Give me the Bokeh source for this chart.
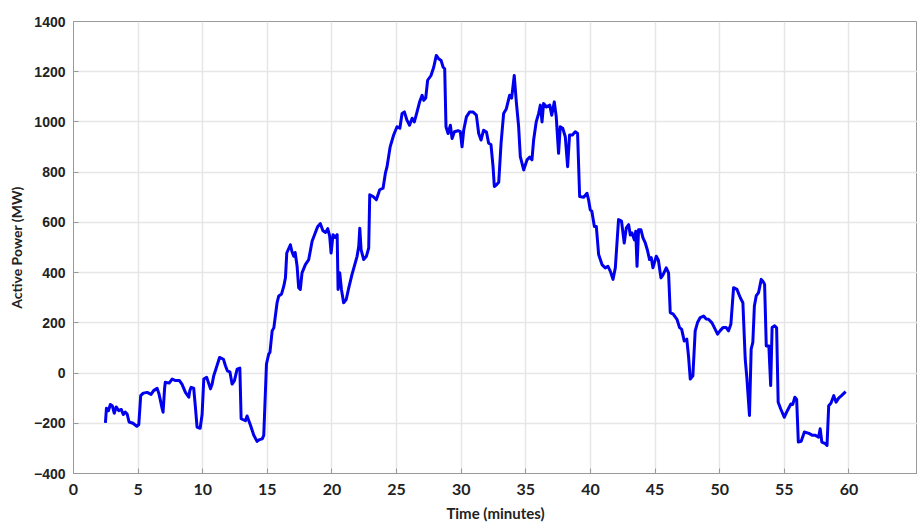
from bokeh.plotting import figure
from bokeh.models import Range1d, FixedTicker
from bokeh.embed import file_html
from bokeh.resources import INLINE

time_min = [2.47, 2.55, 2.7, 2.85, 3.0, 3.15, 3.3, 3.5, 3.7, 3.85, 4.0, 4.15, 4.3, 4.6, 4.9, 5.05, 5.2, 5.4, 5.7, 6.0,
            6.2, 6.47, 6.6, 6.7, 6.85, 6.93, 7.05, 7.1, 7.4, 7.63, 7.9, 8.2, 8.4, 8.66, 8.92, 9.0, 9.1, 9.3, 9.43, 9.56,
            9.8, 9.95, 10.08, 10.3, 10.45, 10.6, 10.72, 10.85, 11.1, 11.3, 11.6, 11.75, 11.9, 12.1, 12.27, 12.45, 12.66,
            12.87, 12.97, 13.3, 13.43, 13.7, 13.95, 14.2, 14.4, 14.6, 14.72, 14.93, 15.1, 15.2, 15.37, 15.5, 15.75,
            15.88, 16.1, 16.27, 16.4, 16.5, 16.78, 16.9, 17.04, 17.15, 17.3, 17.42, 17.55, 17.68, 17.94, 18.2, 18.46,
            18.7, 18.9, 19.1, 19.3, 19.5, 19.67, 19.82, 19.93, 20.08, 20.25, 20.4, 20.47, 20.6, 20.73, 20.9, 21.1,
            21.3, 21.55, 21.8, 21.94, 22.07, 22.15, 22.25, 22.45, 22.66, 22.84, 22.92, 23.18, 23.43, 23.69, 23.95,
            24.13, 24.26, 24.5, 24.77, 25.03, 25.25, 25.42, 25.6, 25.8, 26.0, 26.2, 26.37, 26.58, 26.78, 26.97, 27.1,
            27.25, 27.4, 27.66, 27.87, 28.07, 28.25, 28.44, 28.6, 28.72, 28.82, 28.98, 29.16, 29.29, 29.47, 29.75,
            29.93, 30.06, 30.19, 30.4, 30.65, 30.9, 31.17, 31.35, 31.53, 31.73, 31.95, 32.12, 32.3, 32.46, 32.56,
            32.71, 32.9, 33.08, 33.28, 33.49, 33.74, 33.9, 34.1, 34.26, 34.44, 34.57, 34.83, 35.09, 35.3, 35.47, 35.6,
            35.8, 35.99, 36.12, 36.25, 36.37, 36.6, 36.85, 37.0, 37.2, 37.35, 37.53, 37.66, 37.85, 38.05, 38.23, 38.38,
            38.6, 38.82, 39.0, 39.16, 39.47, 39.73, 39.85, 39.98, 40.1, 40.3, 40.45, 40.63, 40.89, 41.14, 41.35, 41.53,
            41.74, 41.92, 42.17, 42.4, 42.61, 42.77, 42.95, 43.08, 43.21, 43.4, 43.5, 43.6, 43.72, 43.9, 44.06, 44.24,
            44.4, 44.57, 44.7, 44.83, 45.09, 45.25, 45.45, 45.6, 45.86, 46.04, 46.17, 46.4, 46.69, 46.89, 47.05, 47.25,
            47.45, 47.58, 47.72, 47.92, 48.1, 48.28, 48.49, 48.75, 48.95, 49.13, 49.4, 49.65, 49.83, 50.05, 50.25,
            50.5, 50.68, 50.86, 51.07, 51.33, 51.59, 51.79, 51.97, 52.1, 52.3, 52.43, 52.56, 52.68, 52.82, 53.0, 53.21,
            53.35, 53.47, 53.6, 53.8, 53.94, 54.05, 54.25, 54.4, 54.52, 54.72, 54.99, 55.24, 55.5, 55.65, 55.81, 55.95,
            56.08, 56.3, 56.55, 56.9, 57.18, 57.4, 57.65, 57.77, 57.9, 58.17, 58.3, 58.43, 58.6, 58.82, 59.0, 59.2,
            59.42, 59.74]

active_power_mw = [-198, -140, -150, -125, -130, -160, -135, -150, -145, -165, -155, -163, -195, -200, -212, -205, -90,
                   -80, -77, -85, -70, -61, -80, -103, -140, -156, -60, -37, -40, -24, -30, -30, -45, -77, -96, -70,
                   -57, -60, -135, -215, -220, -165, -24, -17, -40, -63, -45, -11, 29, 62, 55, 30, 9, 5, -44, -30, 16,
                   20, -182, -190, -171, -209, -248, -272, -265, -262, -248, 36, 75, 82, 168, 180, 280, 307, 315, 346,
                   380, 478, 511, 484, 465, 480, 425, 340, 333, 399, 432, 452, 525, 558, 584, 595, 567, 560, 575, 545,
                   478, 551, 540, 551, 333, 399, 333, 280, 293, 340, 393, 439, 465, 505, 577, 492, 452, 465, 498, 710,
                   703, 690, 730, 736, 796, 822, 901, 948, 981, 975, 1034, 1040, 1007, 987, 1015, 1000, 1040, 1080,
                   1106, 1086, 1095, 1166, 1185, 1218, 1265, 1252, 1245, 1218, 1212, 981, 954, 987, 934, 961, 965, 961,
                   901, 967, 1020, 1040, 1040, 1027, 954, 928, 967, 960, 915, 910, 822, 743, 749, 760, 915, 1034, 1053,
                   1106, 1095, 1185, 1080, 981, 862, 809, 849, 860, 849, 928, 1000, 1034, 1067, 1000, 1073, 1060, 1067,
                   1027, 1080, 1020, 875, 981, 975, 941, 822, 948, 948, 961, 954, 703, 700, 716, 690, 650, 645, 584,
                   584, 472, 432, 419, 425, 406, 373, 419, 611, 605, 518, 578, 591, 550, 558, 530, 565, 425, 571, 571,
                   538, 518, 490, 452, 460, 419, 465, 450, 379, 390, 419, 399, 241, 235, 214, 181, 175, 128, 135, 69,
                   -24, -11, 168, 201, 221, 227, 215, 214, 200, 174, 155, 170, 181, 181, 168, 194, 340, 333, 300, 280,
                   56, -20, -169, 95, 122, 267, 307, 320, 373, 365, 353, 108, 108, -50, 181, 188, 180, -116, -143, -176,
                   -149, -123, -125, -96, -105, -275, -272, -235, -240, -248, -248, -255, -222, -275, -281, -288, -130,
                   -120, -90, -116, -100, -90, -74]

x_ticks = [0, 5, 10, 15, 20, 25, 30, 35, 40, 45, 50, 55, 60]
y_ticks = [-400, -200, 0, 200, 400, 600, 800, 1000, 1200, 1400]

p = figure(width=917, height=524, output_backend="svg", toolbar_location=None,
           x_range=Range1d(0, 65.3), y_range=Range1d(-400, 1400),
           min_border_left=73, min_border_right=0, min_border_top=21, min_border_bottom=49)

p.background_fill_color = "white"
p.border_fill_color = "white"
p.outline_line_color = "#9a9a9a"
p.outline_line_width = 1

p.line(time_min, active_power_mw, line_color="#0000ee", line_width=3, line_join="round")

grid_color = "#e6e6e6"
p.xgrid.ticker = FixedTicker(ticks=x_ticks)
p.ygrid.ticker = FixedTicker(ticks=y_ticks)
p.xgrid.grid_line_color = grid_color
p.ygrid.grid_line_color = grid_color
p.xgrid.grid_line_width = 1.5
p.ygrid.grid_line_width = 1.5

ax = p.xaxis[0]
ax.ticker = FixedTicker(ticks=x_ticks)
ax.axis_label = "Time (minutes)"
ax.axis_label_text_font = "Lato"
ax.axis_label_text_font_style = "bold"
ax.axis_label_text_font_size = "15px"
ax.axis_label_text_color = "#222222"
ax.axis_label_standoff = 6
ax.major_label_text_font = "Lato"
ax.major_label_text_font_style = "bold"
ax.major_label_text_font_size = "16px"
ax.major_label_text_color = "#222222"
ax.major_label_standoff = 10
ax.axis_line_color = "#9a9a9a"
ax.major_tick_in = 5
ax.major_tick_out = 0
ax.major_tick_line_color = "#9a9a9a"
ax.minor_tick_line_color = None

ay = p.yaxis[0]
ay.ticker = FixedTicker(ticks=y_ticks)
ay.axis_label = "Active Power (MW)"
ay.axis_label_text_font = "Lato"
ay.axis_label_text_font_style = "bold"
ay.axis_label_text_font_size = "14px"
ay.axis_label_text_color = "#222222"
ay.axis_label_standoff = 6
ay.major_label_text_font = "Liberation Sans"
ay.major_label_text_font_style = "bold"
ay.major_label_text_font_size = "14px"
ay.major_label_text_color = "#222222"
ay.major_label_standoff = 8
ay.axis_line_color = "#9a9a9a"
ay.major_tick_in = 5
ay.major_tick_out = 0
ay.major_tick_line_color = "#9a9a9a"
ay.minor_tick_line_color = None

open("out.html", "w").write(file_html(p, INLINE))
